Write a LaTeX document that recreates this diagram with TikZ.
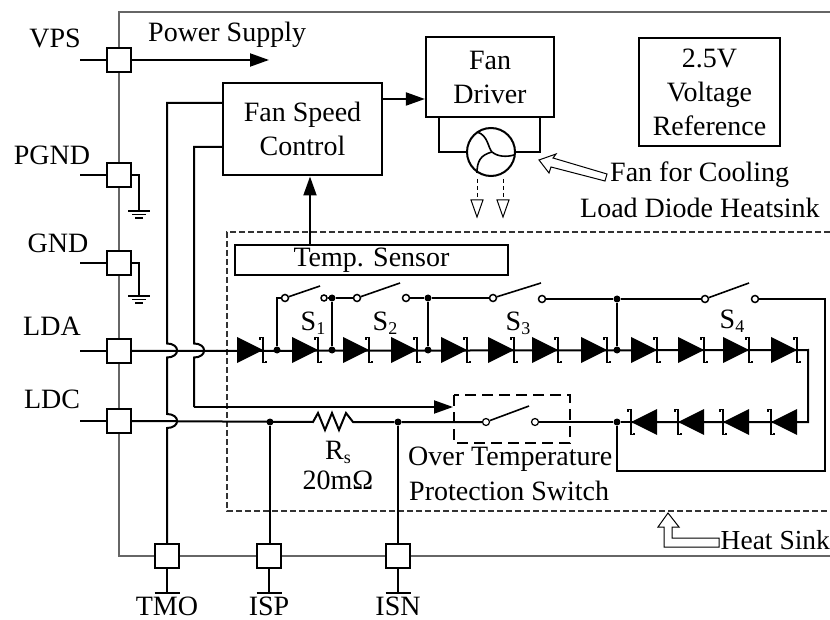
\documentclass[tikz,border=0pt]{standalone}
\usepackage{fontspec}
\setmainfont{Liberation Serif}
\usetikzlibrary{arrows.meta}
\newcommand\subt[1]{\raisebox{-4pt}{\fontsize{18}{18}\selectfont #1}}
\tikzset{
  wire/.style={line width=2pt,black},
  thinwire/.style={line width=1.6pt,black},
  shell/.style={line width=1.5pt,black!60},
  padbox/.style={draw,fill=white,line width=2.2pt,minimum size=24pt,inner sep=0pt},
  box/.style={draw,fill=white,line width=2.2pt,inner sep=0pt,align=center,font=\fontsize{28}{34}\selectfont},
  lbl/.style={inner sep=0pt,align=center,font=\fontsize{28}{32}\selectfont},
  jdot/.style={circle,fill=black,inner sep=0pt,minimum size=7pt},
  opn/.style={circle,draw,fill=white,line width=1.5pt,inner sep=0pt,minimum size=7pt},
  head/.style={-{Triangle[length=19pt,width=13pt]}},
  hollow/.style={draw,fill=white,line width=1pt,line join=miter},
  diodeR/.pic={\fill (0,-13)--(26,0)--(0,13)--cycle;
    \draw[line width=1.8pt] (23,-10.5)--(23,-12.5)--(26,-12.5)--(26,12.5)--(29,12.5)--(29,10.5);},
  diodeL/.pic={\fill (26,-13)--(0,0)--(26,13)--cycle;
    \draw[line width=1.8pt] (-3,-10.5)--(-3,-12.5)--(0,-12.5)--(0,12.5)--(3,12.5)--(3,10.5);},
  gnd/.pic={\draw[line width=1.5pt] (-11,0)--(11,0) (-7,3.5)--(7,3.5); \draw[line width=2pt] (-4,7)--(4,7);}
}
\begin{document}
\begin{tikzpicture}[x=1pt,y=-1pt]
\useasboundingbox (0,0) rectangle (830,620);
\clip (0,0) rectangle (830,620);
% shell and heat sink
\coordinate (sTL) at (119,12); \coordinate (sTR) at (830,12);
\coordinate (sBL) at (119,556); \coordinate (sBR) at (830,556);
\draw[shell] (sTR)--(sTL)--(sBL)--(sBR);
\coordinate (hTR) at (830,232); \coordinate (hTL) at (227,232);
\coordinate (hBL) at (227,511); \coordinate (hBR) at (830,511);
\draw[line width=1.1pt,dash pattern=on 6pt off 3pt,black!80] (hTR)--(hTL)--(hBL)--(hBR);
% boxes
\node[box,minimum width=159pt,minimum height=92pt] (fsc) at (302.5,129) {Fan Speed\\Control};
\node[box,minimum width=128pt,minimum height=80pt] (drv) at (490,77) {Fan\\Driver};
\node[box,minimum width=141pt,minimum height=108pt] (vref) at (709.5,92) {2.5V\\Voltage\\Reference};
\node[box,minimum width=273pt,minimum height=30pt,line width=2pt] (tmp) at (371.5,260) {Temp. Sensor};
% pads
\node[padbox] (vps) at (119,60) {};
\node[padbox] (pgnd) at (119,175) {};
\node[padbox] (gnd) at (119,263) {};
\node[padbox] (lda) at (119,351) {};
\node[padbox] (ldc) at (119,421) {};
\node[padbox] (tmo) at (167,556) {};
\node[padbox] (isp) at (269,556) {};
\node[padbox] (isn) at (398,556) {};
% pin stubs
\coordinate (vpsL) at (80,60); \coordinate (pgndL) at (80,175); \coordinate (gndL) at (80,263);
\coordinate (ldaL) at (80,351); \coordinate (ldcL) at (80,421);
\draw[thinwire] (vpsL)--(vps) (pgndL)--(pgnd) (gndL)--(gnd) (ldaL)--(lda) (ldcL)--(ldc);
\coordinate (psEnd) at (269,60);
\draw[wire,head] (vps)--(psEnd);
% grounds
\coordinate (g1) at (139,211); \coordinate (g2) at (139,296);
\draw[thinwire] (pgnd.east) -| (g1);
\draw[thinwire] (gnd.east) -| (g2);
\pic at (g1) {gnd}; \pic at (g2) {gnd};
% bottom pin stems
\coordinate (tmoE) at (167,593); \coordinate (ispE) at (269,593); \coordinate (isnE) at (398,593);
\foreach \p/\e in {tmo/tmoE,isp/ispE,isn/isnE}{
  \draw[wire] (\p)--(\e);
  \draw[wire] (\e) ++(-12.5,0)--++(25,0);
}
% control lines with hops
\coordinate (c1) at (167,103); \coordinate (c2) at (194,147); \coordinate (c3) at (194,407);
\coordinate (sw1in) at (453,407);
\draw[wire] (fsc.west |- c1)--(c1)--(167,343.5) .. controls (180.5,343.5) and (180.5,357.5) .. (167,357.5)
  --(167,414) .. controls (180.5,414) and (180.5,428) .. (167,428)--(tmo.north);
\draw[wire] (fsc.west |- c2)--(c2)--(194,343.5) .. controls (207.5,343.5) and (207.5,357.5) .. (194,357.5)--(c3);
\draw[wire,head] (c3)--(sw1in);
\coordinate (fo) at (382,99);
\draw[wire,head] (fo)--(drv.west |- fo);
\coordinate (tmpTop) at (310,245); \coordinate (fscBot) at (310,176.5);
\draw[wire,head] (tmpTop)--(fscBot);
% fan
\node[circle,draw,line width=2pt,minimum size=48pt,inner sep=0pt] (fan) at (491,152) {};
\coordinate (dl) at (439,117); \coordinate (dr) at (540,117);
\draw[wire] (dl) |- (fan.west);
\draw[wire] (dr) |- (fan.east);
\draw[thinwire] (477,132) .. controls (488,135) and (488,148) .. (492,152)
  .. controls (498,157) and (507,157) .. (514,155);
\draw[thinwire] (492,152) .. controls (480,155) and (477,162) .. (477,173);
\foreach \x in {477,503}{
  \draw[line width=1pt,dash pattern=on 4pt off 3pt] (\x,179)--(\x,200);
  \draw[hollow] (\x-6,200)--(\x+6,200)--(\x,217)--cycle;
}
\draw[hollow] (539,160)--(556,154)--(553,158)--(607,174)--(605,181)--(551,167)--(549,173)--cycle;
\draw[hollow] (668,513)--(679,527)--(672,527)--(672,538)--(719,538)--(719,547)--(664,547)--(664,527)--(658,527)--cycle;
% LDA row
\coordinate (aEnd) at (808,350); \coordinate (cEnd) at (808,422);
\node[jdot] (j1) at (277,350) {}; \node[jdot] (j2) at (332,350) {};
\node[jdot] (j3) at (428,350) {}; \node[jdot] (j4) at (617,350) {};
\draw[wire] (lda.east)--(aEnd)--(cEnd)--(631,422);
\node[jdot] (k0) at (617,422) {};
\draw[wire] (k0)--(631,422);
\foreach \x in {237,292,343,391,441,488,532,581,631,678,723,771}{\pic at (\x,350) {diodeR};}
\foreach \x in {631,678,723,771}{\pic at (\x,422) {diodeL};}
% top switches
\node[jdot] (t2) at (332,298) {}; \node[jdot] (t3) at (428,298) {}; \node[jdot] (t4) at (617,299) {};
\node[opn] (a1) at (285,298) {}; \node[opn,minimum size=6pt] (b1) at (324,298) {};
\node[opn] (a2) at (357,298) {}; \node[opn] (b2) at (406,298) {};
\node[opn] (a3) at (493,298) {}; \node[opn] (b3) at (542,299) {};
\node[opn] (a4) at (705,299) {}; \node[opn] (b4) at (755,299) {};
\coordinate (e1) at (320,286); \coordinate (e2) at (400,283); \coordinate (e3) at (541,283); \coordinate (e4) at (749,283);
\draw[thinwire] (a1)--(e1) (a2)--(e2) (a3)--(e3) (a4)--(e4);
\draw[thinwire] (j1.north) |- (a1.west);
\draw[thinwire] (b1)--(t2)--(a2);
\draw[thinwire] (b2)--(t3)--(a3);
\draw[thinwire] (b3)--(t4)--(a4);
\draw[wire] (j2)--(t2) (j3)--(t3) (j4)--(t4);
\coordinate (r1) at (825,299); \coordinate (r2) at (825,471); \coordinate (r3) at (617,471);
\draw[wire] (b4.east)--(r1)--(r2)--(r3)--(k0);
% LDC row
\node[jdot] (m1) at (270,422) {}; \node[jdot] (m2) at (398,422) {};
\node[opn,minimum size=7pt,line width=1.2pt] (a5) at (486,422) {};
\node[opn,minimum size=7pt,line width=1.2pt] (b5) at (535,422) {};
\coordinate (e5) at (529,406);
\coordinate (rL) at (313,422); \coordinate (rR) at (353,422);
\draw[wire] (ldc.east)--(rL) -- (318,413)--(325,430)--(332,413)--(339,430)--(346,413)--(rR)--(m2)--(a5);
\draw[thinwire] (a5)--(e5);
\draw[wire] (b5)--(k0);
\draw[wire] (m1)--(m1 |- isp.north);
\draw[wire] (m2)--(isn.north);
\draw[line width=2pt,dash pattern=on 11pt off 6pt] (454,395) rectangle (570,443);
% labels
\node[lbl] (lVPS) at (55,38) {VPS};
\node[lbl] (lPGND) at (52,155) {PGND};
\node[lbl] (lGND) at (58,243) {GND};
\node[lbl] (lLDA) at (52,326) {LDA};
\node[lbl] (lLDC) at (52,399) {LDC};
\node[lbl,anchor=west] (lPS) at (148,35) {Power Supply};
\node[lbl,anchor=west] (lFan1) at (610,175) {Fan for Cooling};
\node[lbl,anchor=west] (lFan2) at (580,208) {Load Diode Heatsink};
\node[lbl] (lS1) at (313,323) {S\subt{1}};
\node[lbl] (lS2) at (385,323) {S\subt{2}};
\node[lbl] (lS3) at (518,323) {S\subt{3}};
\node[lbl] (lS4) at (732,321) {S\subt{4}};
\node[lbl] (lRs) at (338,452) {R\subt{s}};
\node[lbl] (lR) at (338,480) {20mΩ};
\node[lbl,anchor=west] (lOT) at (408,459) {Over Temperature};
\node[lbl,anchor=west] (lPr) at (409,491) {Protection Switch};
\node[lbl,anchor=west,font=\fontsize{27.5}{32}\selectfont] (lHS) at (720.5,540) {Heat Sink};
\node[lbl] (lTMO) at (167,606.5) {TMO};
\node[lbl] (lISP) at (269,606.5) {ISP};
\node[lbl] (lISN) at (398,606.5) {ISN};
\end{tikzpicture}
\end{document}
